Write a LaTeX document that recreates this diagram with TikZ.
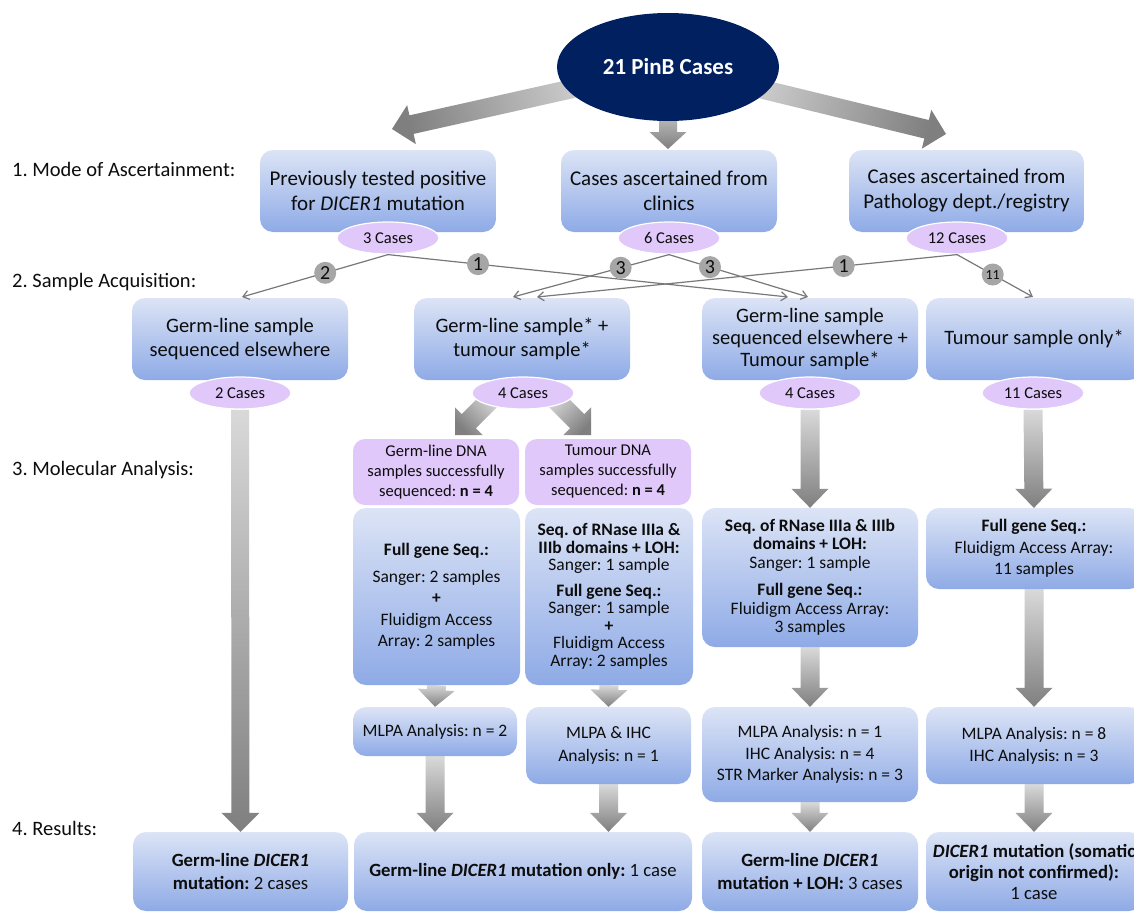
\documentclass[tikz,border=0pt]{standalone}
\usepackage{fontspec}
\setmainfont{Carlito}
\usetikzlibrary{calc,shapes.geometric,arrows.meta}
\definecolor{navy}{RGB}{0,32,96}
\definecolor{boxtop}{RGB}{220,228,246}
\definecolor{boxbot}{RGB}{142,170,230}
\definecolor{lav}{RGB}{224,200,250}
\definecolor{arrlight}{RGB}{217,217,217}
\definecolor{arrdark}{RGB}{127,127,127}
\definecolor{linegray}{RGB}{120,120,120}
\definecolor{numgray}{RGB}{166,166,166}
\definecolor{txt}{RGB}{13,13,13}
\frenchspacing
\newcommand\fs[2]{\fontsize{#1}{#2}\selectfont\lineskiplimit=-30pt\relax}
\pgfdeclarelayer{background}
\pgfsetlayers{background,main}
% #1 tail, #2 tip, #3 shading angle, #4 shaft half width, #5 head half width, #6 head length
\newcommand\bigarrow[6]{%
  \coordinate (hb) at ($(#2)!#6!(#1)$);
  \shade[top color=arrdark, bottom color=arrlight, shading angle=#3]
   ($(#1)!#4!90:(#2)$) -- ($(hb)!#4!-90:(#1)$) -- ($(hb)!#5!-90:(#1)$) -- (#2)
   -- ($(hb)!#5!90:(#1)$) -- ($(hb)!#4!90:(#1)$) -- ($(#1)!#4!-90:(#2)$) -- cycle;}
\tikzset{
 bbox/.style={rectangle, rounded corners=13pt, inner sep=0pt, top color=boxtop, bottom color=boxbot, draw=none, align=center, text=txt},
 pbox/.style={rectangle, rounded corners=12pt, inner sep=0pt, fill=lav, draw=none, align=center, text=txt},
 oval/.style={ellipse, fill=lav, draw=white, line width=1.2pt, minimum width=102pt, minimum height=32pt, inner sep=0pt, font=\fs{16.5}{18}, text=txt},
 numc/.style={circle, fill=numgray, draw=none, minimum size=22pt, inner sep=0pt, font=\fs{20}{20}, text=txt},
 thinarrow/.style={draw=linegray, line width=1.2pt, -{Straight Barb[length=6pt,width=9pt]}},
 lab/.style={anchor=west, font=\fs{20.5}{24}, text=txt, inner sep=0pt},
}
\begin{document}
\begin{tikzpicture}[x=1pt,y=-1pt]
\useasboundingbox (0,0) rectangle (1134,913);
\begin{pgfonlayer}{background}
\fill[white] (0,0) rectangle (1134,913);
\end{pgfonlayer}
% level labels
\node[lab] (l1) at (12,169) {1. Mode of Ascertainment:};
\node[lab] (l2) at (12,282) {2. Sample Acquisition:};
\node[lab] (l3) at (12,470) {3. Molecular Analysis:};
\node[lab] (l4) at (12,828) {4. Results:};
% top ellipse
\node[ellipse, fill=navy, draw=none, minimum width=222pt, minimum height=108pt, inner sep=0pt, text=white, font=\fs{23}{26}\bfseries] (top) at (668,67) {21 PinB Cases};
% row 1
\node[bbox, minimum width=236pt, minimum height=82pt, font=\fs{21}{25}] (b1) at (378,191) {Previously tested positive\\for \textit{DICER1} mutation};
\node[bbox, minimum width=216pt, minimum height=82pt, font=\fs{21}{25}] (b2) at (669,191) {Cases ascertained from\\clinics};
\node[bbox, minimum width=235pt, minimum height=82pt, font=\fs{21}{25}] (b3) at (966.5,191) {Cases ascertained from\\Pathology dept./registry};
% row 2
\node[bbox, minimum width=216pt, minimum height=82pt, font=\fs{20.5}{24}] (bA) at (240,339) {Germ-line sample\\sequenced elsewhere};
\node[bbox, minimum width=216pt, minimum height=82pt, font=\fs{20.5}{24}] (bB) at (522,339) {Germ-line sample* +\\tumour sample*};
\node[bbox, minimum width=216pt, minimum height=82pt, font=\fs{20.5}{22}] (bC) at (810,339) {Germ-line sample\\sequenced elsewhere +\\Tumour sample*};
\node[bbox, minimum width=216pt, minimum height=82pt, font=\fs{20.5}{24}] (bD) at (1034,339) {Tumour sample only*};
% row 3
\node[pbox, minimum width=166pt, minimum height=66pt, font=\fs{16.5}{20}] (pG) at (436,472) {Germ-line DNA\\samples successfully\\sequenced: \textbf{n = 4}};
\node[pbox, minimum width=166pt, minimum height=66pt, font=\fs{16.5}{20}] (pT) at (608,472) {Tumour DNA\\samples successfully\\sequenced: \textbf{n = 4}};
\node[bbox, minimum width=167pt, minimum height=177pt, font=\fs{17.5}{21.5}] (fL) at (436.5,596.5) {\textbf{Full gene Seq.:}\\[5.5pt]Sanger: 2 samples\\\textbf{+}\\Fluidigm Access\\Array: 2 samples};
\node[bbox, minimum width=168pt, minimum height=177pt, font=\fs{17.5}{17.5}] (fR) at (609,596.5) {\textbf{Seq. of RNase IIIa \&}\\\textbf{IIIb domains + LOH:}\\Sanger: 1 sample\\[8pt]\textbf{Full gene Seq.:}\\Sanger: 1 sample\\\textbf{+}\\Fluidigm Access\\Array: 2 samples};
\node[bbox, minimum width=216pt, minimum height=139pt, font=\fs{17.5}{18.5}] (c3) at (810,577.5) {\textbf{Seq. of RNase IIIa \& IIIb}\\\textbf{domains + LOH:}\\Sanger: 1 sample\\[9pt]\textbf{Full gene Seq.:}\\Fluidigm Access Array:\\3 samples};
\node[bbox, minimum width=216pt, minimum height=81pt, font=\fs{17.5}{21.5}] (d3) at (1034,548.5) {\textbf{Full gene Seq.:}\\Fluidigm Access Array:\\11 samples};
% row 4
\node[bbox, minimum width=164pt, minimum height=49pt, font=\fs{17.5}{21.5}] (mL) at (435,731.5) {MLPA Analysis: n = 2};
\node[bbox, minimum width=165pt, minimum height=77pt, font=\fs{17.5}{23}] (mR) at (608.5,745.5) {MLPA \& IHC\\Analysis: n = 1};
\node[bbox, minimum width=216pt, minimum height=95pt, font=\fs{17.5}{21.5}] (c4) at (810,754.5) {MLPA Analysis: n = 1\\IHC Analysis: n = 4\\STR Marker Analysis: n = 3};
\node[bbox, minimum width=216pt, minimum height=77pt, font=\fs{17.5}{22}] (d4) at (1034,745.5) {MLPA Analysis: n = 8\\IHC Analysis: n = 3};
% results
\node[bbox, minimum width=215pt, minimum height=79pt, font=\fs{18.7}{23}] (r1) at (240.5,871.5) {\textbf{Germ-line \textit{DICER1}}\\\textbf{mutation:} 2 cases};
\node[bbox, minimum width=338pt, minimum height=79pt, font=\fs{18.7}{23}] (r2) at (523,871.5) {\textbf{Germ-line \textit{DICER1} mutation only:} 1 case};
\node[bbox, minimum width=216pt, minimum height=79pt, font=\fs{18.7}{23}] (r3) at (810,871.5) {\textbf{Germ-line \textit{DICER1}}\\\textbf{mutation + LOH:} 3 cases};
\node[bbox, minimum width=216pt, minimum height=79pt, font=\fs{18.7}{21}] (r4) at (1034,871.5) {\textbf{\textit{DICER1} mutation (somatic}\\\textbf{origin not confirmed):}\\1 case};
% ovals
\node[oval] (o1) at (388,238) {3 Cases};
\node[oval] (o2) at (669,238) {6 Cases};
\node[oval] (o3) at (957,238) {12 Cases};
\node[oval] (oA) at (240,393) {2 Cases};
\node[oval] (oB) at (523,393) {4 Cases};
\node[oval] (oC) at (810,393) {4 Cases};
\node[oval] (oD) at (1033,393) {11 Cases};
% big arrow coordinates
\coordinate (eL) at (620,78);
\coordinate (tipL) at (392,129);
\coordinate (eM) at (668,100);
\coordinate (tipM) at (668,149);
\coordinate (eR) at (716,78);
\coordinate (tipR) at (946,134);
\coordinate (tBL) at (492,398);
\coordinate (tipBL) at (455,435);
\coordinate (tBR) at (554,398);
\coordinate (tipBR) at (591,435);
\coordinate (r2L) at (mL.south |- r2.north);
\coordinate (r2R) at (mR.south |- r2.north);
\begin{pgfonlayer}{background}
\bigarrow{eL}{tipL}{102.6}{9.5pt}{20pt}{20pt}
\bigarrow{eM}{tipM}{180}{9pt}{18.5pt}{17pt}
\bigarrow{eR}{tipR}{-103.7}{9.5pt}{20pt}{20pt}
\bigarrow{tBL}{tipBL}{135}{10pt}{19.5pt}{19.5pt}
\bigarrow{tBR}{tipBR}{225}{10pt}{19.5pt}{19.5pt}
\bigarrow{oA.south}{r1.north}{180}{9pt}{19pt}{19pt}
\bigarrow{oC.south}{c3.north}{180}{9.5pt}{18.5pt}{19pt}
\bigarrow{oD.south}{d3.north}{180}{9.5pt}{18.5pt}{19pt}
\bigarrow{c3.south}{c4.north}{180}{9.5pt}{18.5pt}{19pt}
\bigarrow{d3.south}{d4.north}{180}{9.5pt}{18.5pt}{19pt}
\bigarrow{c4.south}{r3.north}{180}{9.5pt}{18.5pt}{19pt}
\bigarrow{d4.south}{r4.north}{180}{9.5pt}{18.5pt}{19pt}
\bigarrow{fL.south}{mL.north}{180}{9.5pt}{18.5pt}{17pt}
\bigarrow{fR.south}{mR.north}{180}{9.5pt}{18.5pt}{17pt}
\bigarrow{mL.south}{r2L}{180}{9.5pt}{18.5pt}{19pt}
\bigarrow{mR.south}{r2R}{180}{9.5pt}{18.5pt}{19pt}
\end{pgfonlayer}
% thin connectors
\coordinate (aA) at (242,297);
\coordinate (aB1) at (513,297);
\coordinate (aB2) at (537,297);
\coordinate (aC1) at (788,297);
\coordinate (aC2) at (808,297);
\coordinate (aD) at (1033,297);
\draw[thinarrow] (o1.south) -- (aA);
\draw[thinarrow] (o1.south) -- (aC1);
\draw[thinarrow] (o2.south) -- (aB1);
\draw[thinarrow] (o2.south) -- (aC2);
\draw[thinarrow] (o3.south) -- (aB2);
\draw[thinarrow] (o3.south) -- (aD);
\node[numc] (n1) at ($(o1.south)!0.43!(aA)$) {2};
\node[numc] (n2) at ($(o1.south)!0.225!(aC1)$) {1};
\node[numc] (n3) at ($(o2.south)!0.31!(aB1)$) {3};
\node[numc] (n4) at ($(o2.south)!0.295!(aC2)$) {3};
\node[numc] (n5) at ($(o3.south)!0.27!(aB2)$) {1};
\node[numc, font=\fs{14}{14}] (n6) at ($(o3.south)!0.47!(aD)$) {11};
\end{tikzpicture}
\end{document}
